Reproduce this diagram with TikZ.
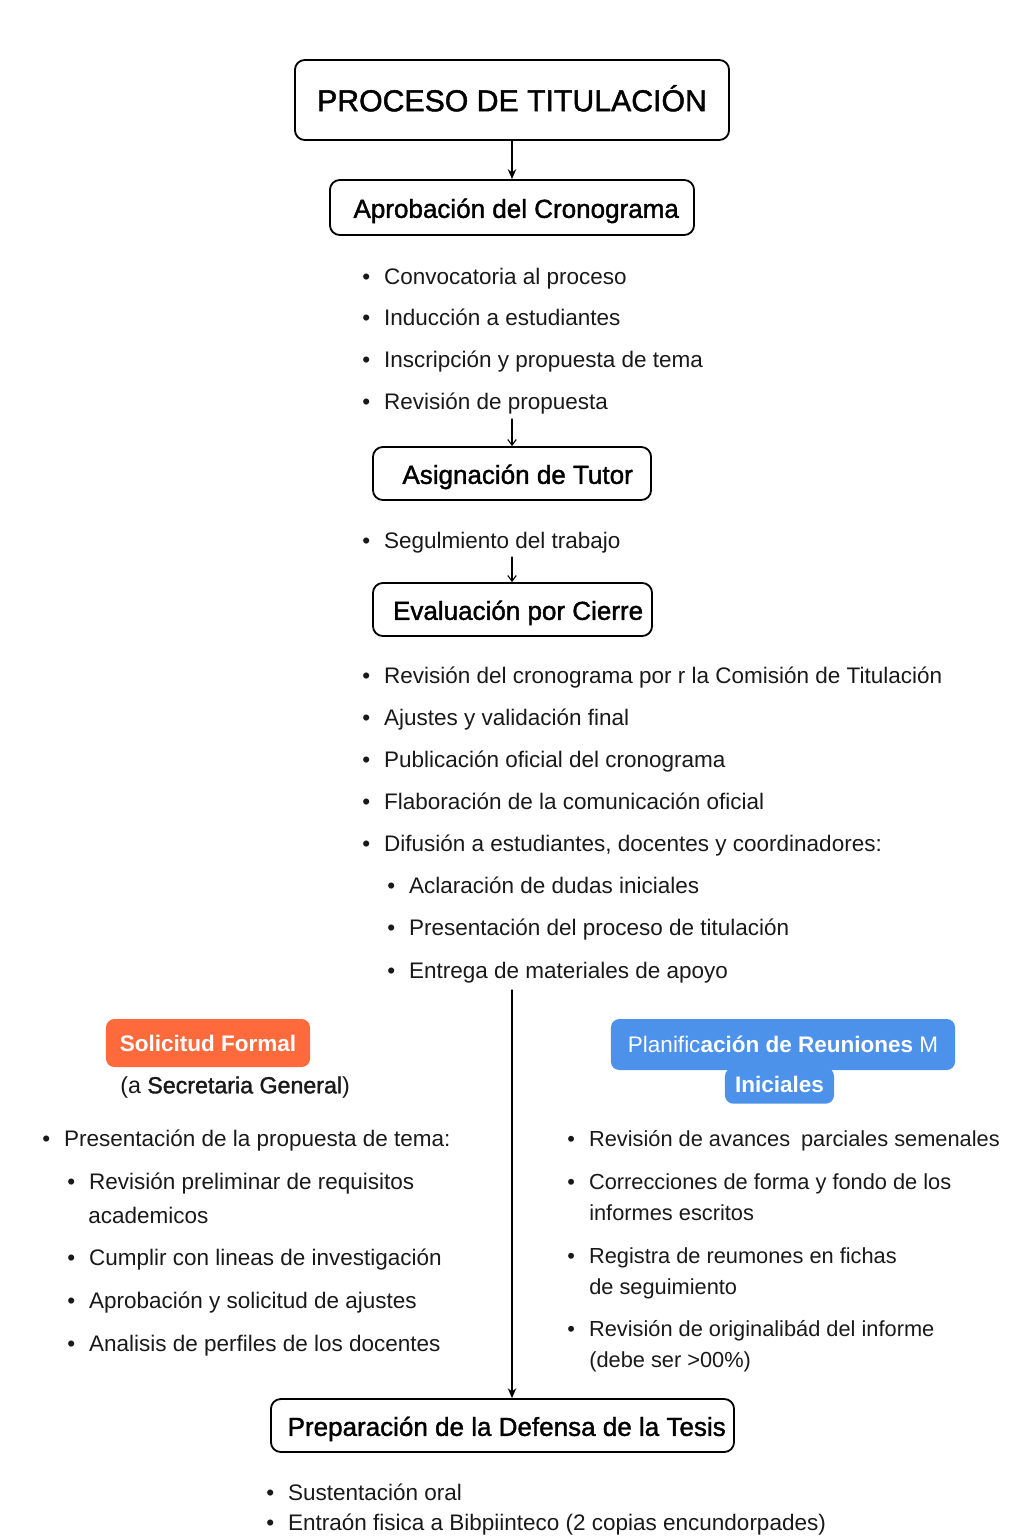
\documentclass[tikz,border=0pt]{standalone}
\usepackage{fontspec}
\setmainfont{Liberation Sans}
\newfontfamily\semib[FakeBold=1.5]{Liberation Sans}
\usetikzlibrary{arrows.meta}
\definecolor{solic}{RGB}{255,106,61}
\definecolor{planif}{RGB}{76,145,234}
\definecolor{ink}{RGB}{25,25,25}
\newcommand\itm{\makebox[15.5pt][l]{\textbullet}}

\begin{document}
\begin{tikzpicture}[x=0.025cm, y=-0.025cm, line cap=round, line join=round,
    stage/.style={draw, line width=1.3pt, rounded corners=7pt, inner sep=0pt,
      text height=16.5pt, text depth=1.8pt, font=\semib\fontsize{18.5}{20}\selectfont},
    tag/.style={rounded corners=6pt, inner sep=0pt, text=white,
      font=\bfseries\fontsize{16}{18}\selectfont},
    item/.style={anchor=west, inner sep=0pt, text height=14.8pt, text depth=3pt,
      text=ink, font=\fontsize{16}{18}\selectfont},
    ritem/.style={item, font=\fontsize{15.5}{18}\selectfont},
    arr/.style={line width=0.9pt, -{Stealth[length=7pt, width=6pt]}},
    varr/.style={line width=0.8pt, -{Straight Barb[length=4pt, width=6pt]}}]
  \useasboundingbox (0,0) rectangle (1024,1536);
  \clip (0,0) rectangle (1024,1536);
  \node[stage, minimum width=10.85cm, minimum height=2cm, text height=16pt, text depth=0pt,
    font=\semib\fontsize{21.5}{24}\selectfont] (title) at (512,100) {PROCESO DE TITULACIÓN};
  \node[stage, minimum width=9.1cm, minimum height=1.375cm] (aprob) at (512,207.5) {\hspace{6pt}Aprobación del Cronograma};
  \draw[arr] (title) -- (aprob);
  \node[item] (a1) at (362,276) {\itm Convocatoria al proceso};
  \node[item] (a2) at (362,317) {\itm Inducción a estudiantes};
  \node[item] (a3) at (362,359) {\itm Inscripción y propuesta de tema};
  \node[item] (a4) at (362,401) {\itm Revisión de propuesta};
  \node[stage, minimum width=6.95cm, minimum height=1.325cm] (asign) at (512,473.5) {\hspace{8pt}Asignación de Tutor};
  \coordinate (a5) at (512,419);
  \draw[varr] (a5) -- (asign);
  \node[item] (b1) at (362,540) {\itm Segulmiento del trabajo};
  \node[stage, minimum width=6.975cm, minimum height=1.325cm] (eval) at (512.5,609.5) {\hspace{8pt}Evaluación por Cierre};
  \coordinate (b2) at (512,557);
  \draw[varr] (b2) -- (b2 |- eval.north);
  \node[item] (c1) at (362,675) {\itm Revisión del cronograma por r la Comisión de Titulación};
  \node[item] (c2) at (362,717) {\itm Ajustes y validación final};
  \node[item] (c3) at (362,759) {\itm Publicación oficial del cronograma};
  \node[item] (c4) at (362,801) {\itm Flaboración de la comunicación oficial};
  \node[item] (c5) at (362,843) {\itm Difusión a estudiantes, docentes y coordinadores:};
  \node[item] (c6) at (387,885) {\itm Aclaración de dudas iniciales};
  \node[item] (c7) at (387,927) {\itm Presentación del proceso de titulación};
  \node[item] (c8) at (387,970) {\itm Entrega de materiales de apoyo};
  \node[tag, fill=solic, minimum width=5.1cm, minimum height=1.2cm] (solic) at (208,1043) {Solicitud Formal};
  \node[item, font=\fontsize{16.5}{18}\selectfont] (d0) at (120,1085) {(a {\semib Secretaria General})};
  \node[item] (d1) at (42,1138) {\itm Presentación de la propuesta de tema:};
  \node[item] (d2) at (67,1181) {\itm Revisión preliminar de requisitos};
  \node[item] (d3) at (88,1215) {academicos};
  \node[item] (d4) at (67,1257) {\itm Cumplir con lineas de investigación};
  \node[item] (d5) at (67,1300) {\itm Aprobación y solicitud de ajustes};
  \node[item] (d6) at (67,1343) {\itm Analisis de perfiles de los docentes};
  \node[tag, fill=planif, minimum width=2.725cm, minimum height=0.9cm, text height=11pt,
    text depth=1pt, anchor=south] (plan2) at (779.5,1104) {Iniciales};
  \node[tag, fill=planif, minimum width=8.6cm, minimum height=1.275cm] (plan1) at (783,1044.5)
    {\mdseries Planific\bfseries ación de Reuniones \mdseries M};
  \node[ritem] (e1) at (567,1138) {\itm Revisión de avances\enspace parciales semenales};
  \node[ritem] (e2) at (567,1181) {\itm Correcciones de forma y fondo de los};
  \node[ritem] (e3) at (589,1212) {informes escritos};
  \node[ritem] (e4) at (567,1255) {\itm Registra de reumones en fichas};
  \node[ritem] (e5) at (589,1286) {de seguimiento};
  \node[ritem] (e6) at (567,1328) {\itm Revisión de originalibád del informe};
  \node[ritem] (e7) at (589,1359) {(debe ser >00\%)};
  \node[stage, minimum width=11.575cm, minimum height=1.325cm] (prep) at (502.5,1425.5) {\hspace{6pt}Preparación de la Defensa de la Tesis};
  \coordinate (c9) at (512,990);
  \draw[arr] (c9) -- (c9 |- prep.north);
  \node[item] (f1) at (266,1492) {\itm Sustentación oral};
  \node[item] (f2) at (266,1522) {\itm Entraón fisica a Bibpiinteco (2 copias encundorpades)};
\end{tikzpicture}
\end{document}
